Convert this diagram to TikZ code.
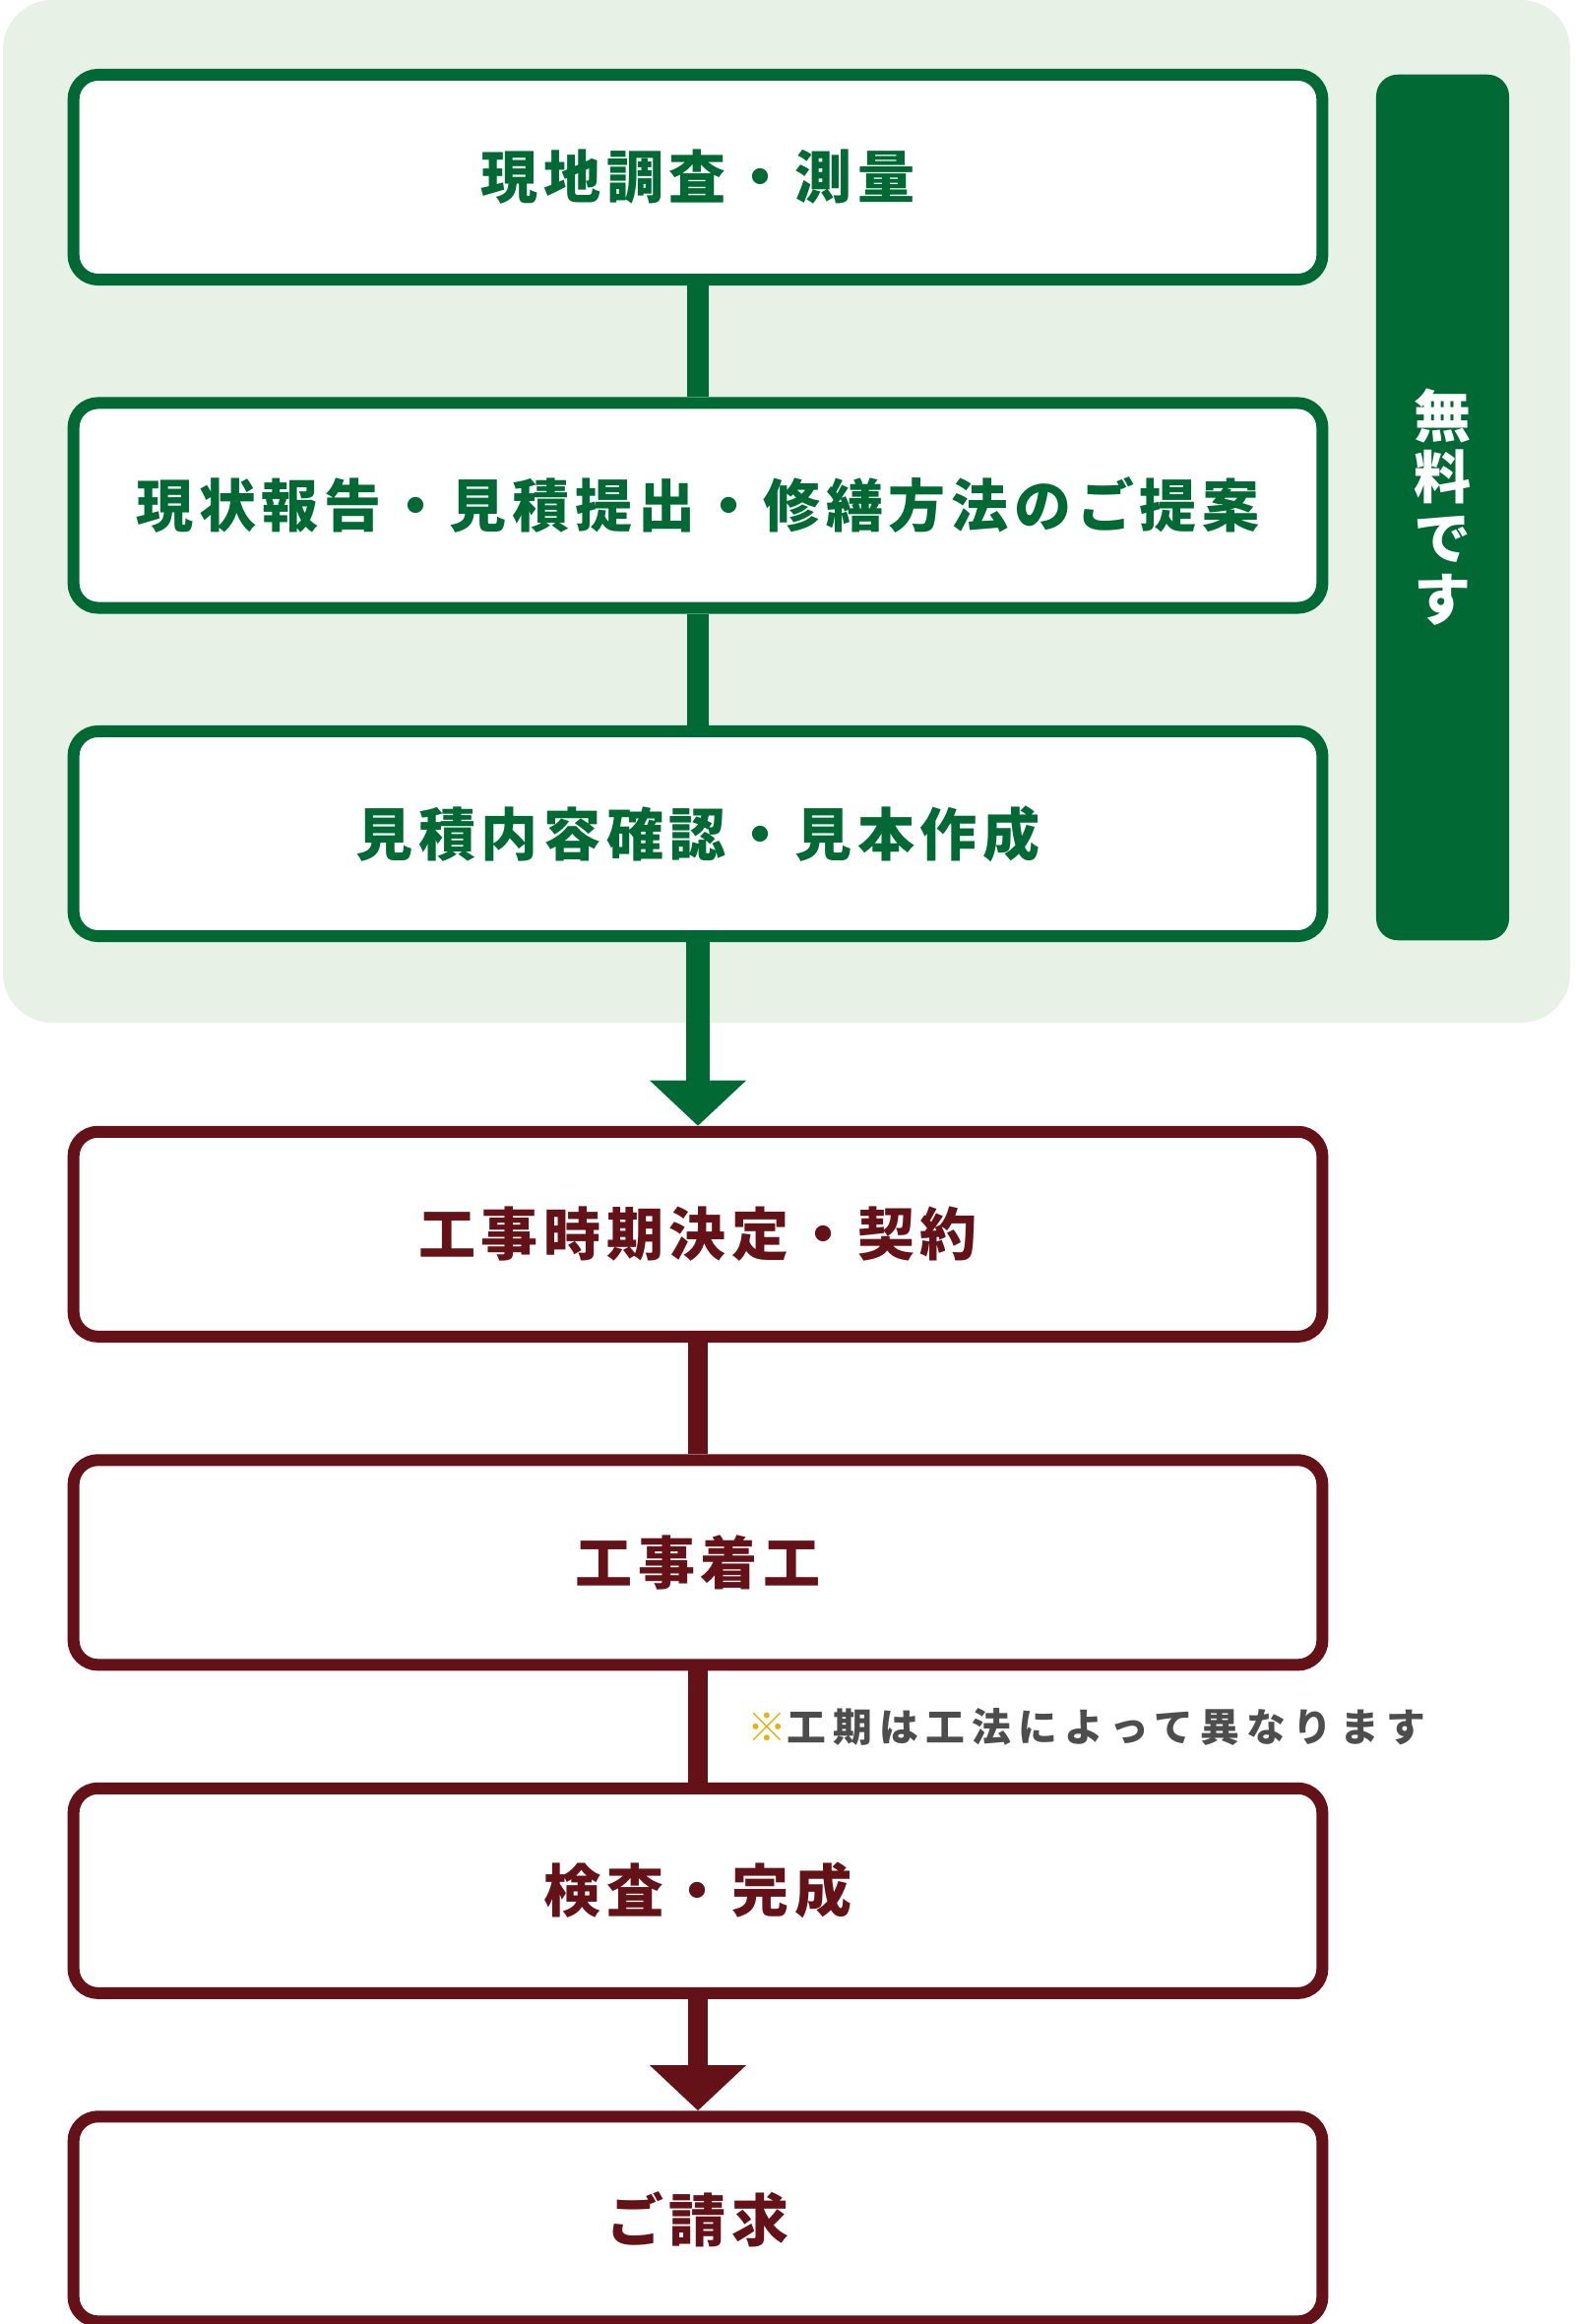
\documentclass[tikz,border=0pt]{standalone}
\usepackage{fontspec}
\setmainfont{Noto Sans CJK JP}
\newfontfamily\boxfont{Noto Sans CJK JP}[LetterSpace=9.8]
\newfontfamily\notefont{Noto Sans CJK JP}[LetterSpace=18.5]
\usetikzlibrary{arrows.meta}
\definecolor{freegreen}{RGB}{0,105,52}
\definecolor{workred}{RGB}{100,18,23}
\definecolor{freebg}{RGB}{231,241,229}
\definecolor{notegray}{RGB}{77,77,77}
\definecolor{noteyellow}{RGB}{228,178,20}
\tikzstyle{freestep} = [rectangle, rounded corners=0.25cm, minimum width=12.68cm, minimum height=2.08cm, text centered, draw=freegreen, line width=0.12cm, fill=white, text=freegreen, font=\boxfont\bfseries\fontsize{16.5pt}{20pt}\selectfont]
\tikzstyle{workstep} = [freestep, draw=workred, text=workred]
\tikzstyle{freetag} = [rectangle, rounded corners=0.22cm, minimum width=1.35cm, minimum height=8.79cm, fill=freegreen, text=white, align=center, font=\bfseries\fontsize{16.5pt}{17.6pt}\selectfont]
\tikzstyle{freeline} = [freegreen, line width=0.22cm]
\tikzstyle{workline} = [workred, line width=0.2cm]
\tikzstyle{freearrow} = [freegreen, line width=0.24cm, -{Triangle[width=0.95cm,length=0.46cm]}]
\tikzstyle{workarrow} = [workred, line width=0.2cm, -{Triangle[width=0.95cm,length=0.46cm]}]

\begin{document}
\begin{tikzpicture}[x=0.01cm, y=-0.01cm, node distance=3.333cm]
    \useasboundingbox (0,0) rectangle (1600,2361);
    \fill [freebg, rounded corners=0.5cm] (3,0) rectangle (1595,1039);
    \node (survey) [freestep] at (709,180) {現地調査・測量};
    \node (report) [freestep, below of=survey] {現状報告・見積提出・修繕方法のご提案};
    \node (sample) [freestep, below of=report] {見積内容確認・見本作成};
    \node (free) [freetag] at (1465.5,515.5) {無\\料\\で\\す};
    \node (contract) [workstep, below of=sample, yshift=-0.733cm] {工事時期決定・契約};
    \node (start) [workstep, below of=contract] {工事着工};
    \node (finish) [workstep, below of=start] {検査・完成};
    \node (invoice) [workstep, below of=finish] {ご請求};
    \node (note) [anchor=west, text=notegray, font=\notefont\bfseries\fontsize{11.3pt}{14pt}\selectfont] at (747,1754) {{\color{noteyellow}\mdseries ※}工期は工法によって異なります};
    \draw [freeline] (survey) -- (report);
    \draw [freeline] (report) -- (sample);
    \draw [freearrow] (sample) -- (contract);
    \draw [workline] (contract) -- (start);
    \draw [workline] (start) -- (finish);
    \draw [workarrow] (finish) -- (invoice);
\end{tikzpicture}
\end{document}
